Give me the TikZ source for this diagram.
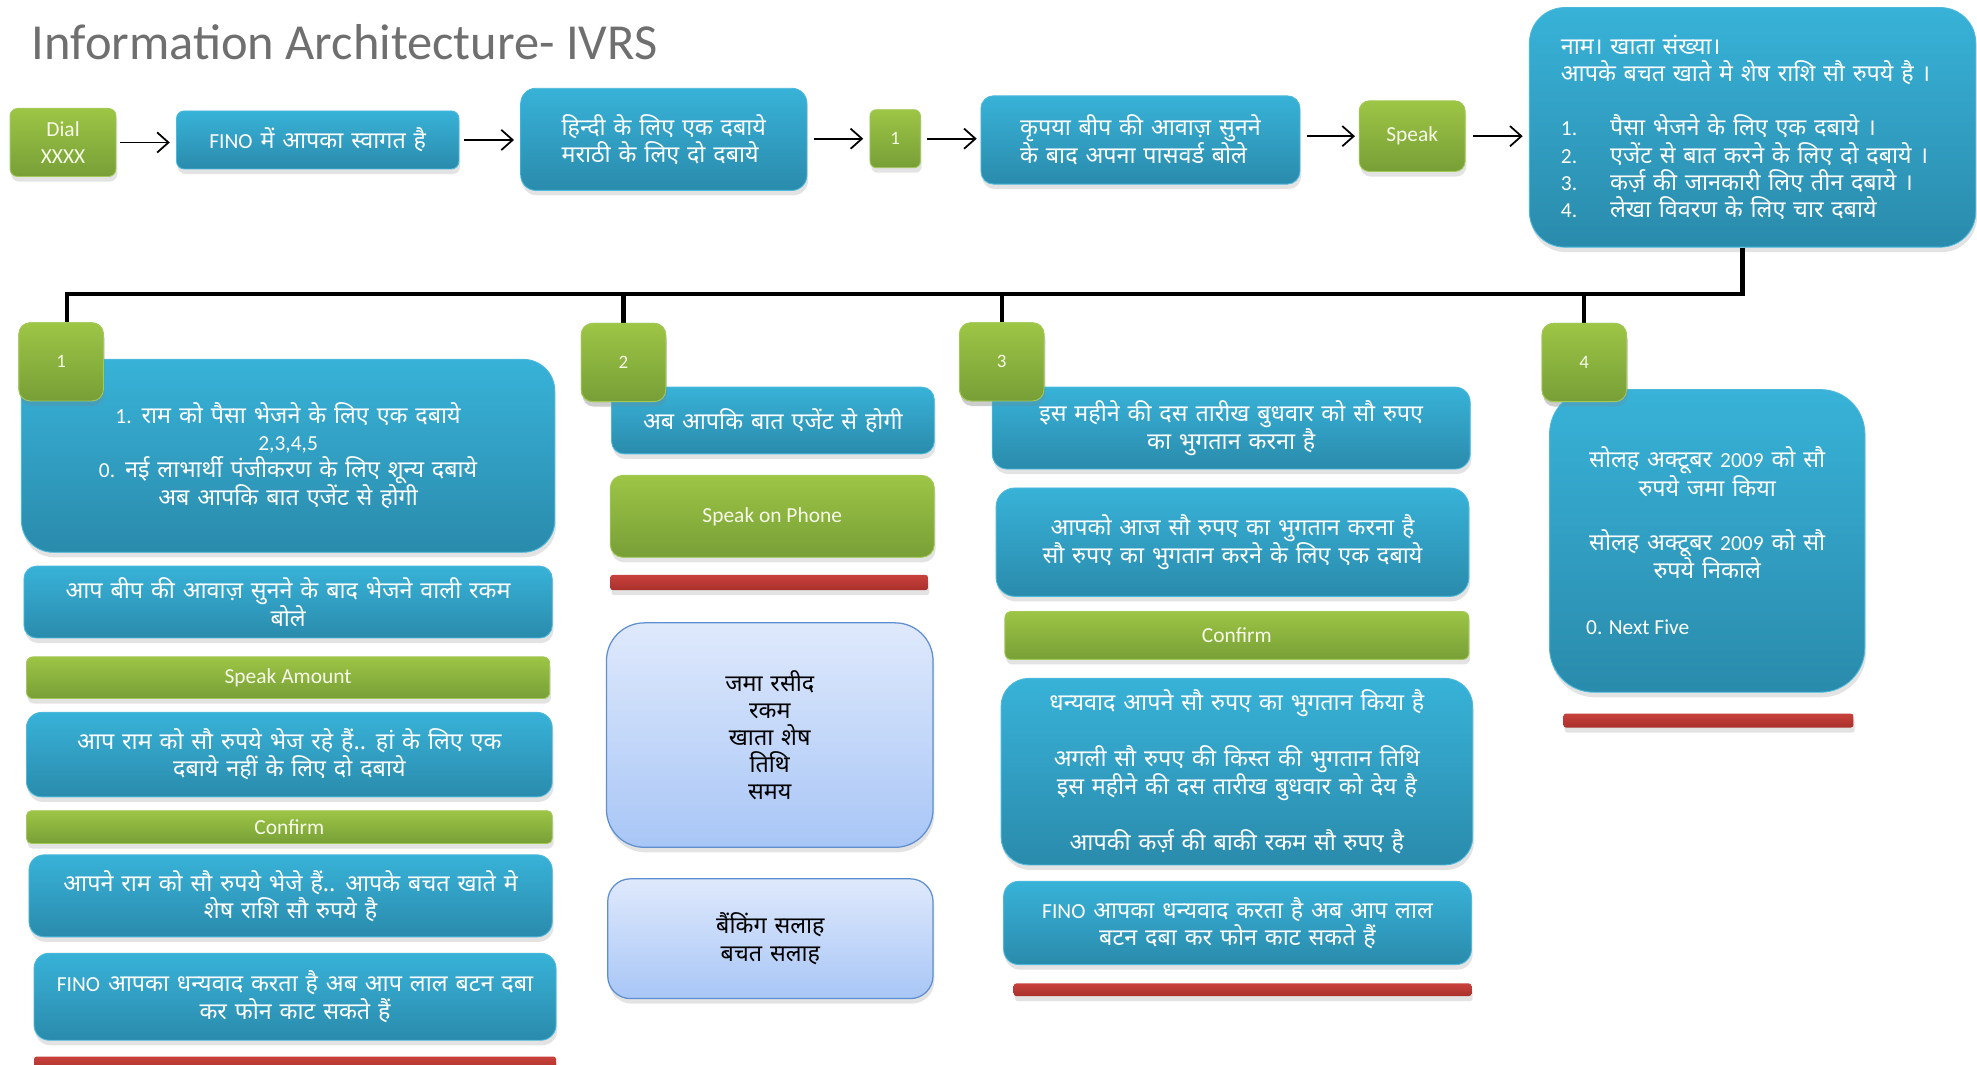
\documentclass[tikz,border=0pt]{standalone}
\usepackage{fontspec}
\setmainfont{Carlito}
\newfontfamily\dev[Script=Devanagari, WordSpace=1.3]{Noto Sans}
\usetikzlibrary{shadows,arrows.meta}
\definecolor{blueT}{HTML}{38B2D8}
\definecolor{blueB}{HTML}{2A8BAC}
\definecolor{blueE}{HTML}{4BB9DC}
\definecolor{greenT}{HTML}{9DC545}
\definecolor{greenB}{HTML}{779F37}
\definecolor{greenE}{HTML}{A2C856}
\definecolor{redT}{HTML}{C8413C}
\definecolor{redB}{HTML}{A9302C}
\definecolor{lbT}{HTML}{DFE9FC}
\definecolor{lbB}{HTML}{A8C6F6}
\definecolor{lbE}{HTML}{5F8FCF}
\definecolor{titlegray}{HTML}{6F6F6F}
\definecolor{cream}{HTML}{F7F9E8}
\newcommand\devtext{\dev\fontsize{18.5}{21.5}\selectfont}
\newcommand\Lat[1]{{\rmfamily\fontsize{17}{21.5}\selectfont #1}}
\tikzset{
  shad/.style={drop shadow={opacity=0.22, shadow xshift=1pt, shadow yshift=-4pt}},
  wh/.style 2 args={minimum width=#1pt, minimum height=#2pt},
  bluebox/.style={shad, rounded corners=#1, top color=blueT, bottom color=blueB,
    draw=blueE, line width=0.7pt, text=white, align=center, inner sep=0pt, font=\devtext},
  greenbox/.style={shad, rounded corners=#1, top color=greenT, bottom color=greenB,
    draw=greenE, line width=0.7pt, text=cream, align=center, inner sep=0pt,
    font=\fontsize{17}{21}\selectfont},
  numbox/.style={greenbox=9pt, wh={67}{62}, font=\fontsize{15}{18}\selectfont},
  redbar/.style={shad, rounded corners=2pt, top color=redT, bottom color=redB, draw=none, inner sep=0pt},
  lightbox/.style={shad, rounded corners=#1, top color=lbT, bottom color=lbB,
    draw=lbE, line width=1pt, text=black, align=center, inner sep=0pt, font=\devtext},
  arr/.style={-{Straight Barb[length=9pt,width=16pt]}, line width=1.4pt, black},
  bus/.style={line width=3.5pt, black},
  titlestyle/.style={anchor=base west, inner sep=0pt, text=titlegray, font=\fontsize{40}{44}\selectfont}
}
\begin{document}
\begin{tikzpicture}[x=1pt,y=-1pt]
\useasboundingbox (0,0) rectangle (1568,844);
\fill[white] (0,0) rectangle (1568,844);

\node[titlestyle] (title) at (25,47) {Information Architecture- IVRS};

% ---------- top row ----------
\node[greenbox=6pt, wh={84}{54}] (dial) at (50,113) {Dial\\XXXX};
\node[bluebox=6pt, wh={224}{46}] (fino) at (252,111) {\Lat{FINO} में आपका स्वागत है};
\node[bluebox=12pt, wh={227}{81}, align=left] (hindi) at (526.5,110.5) {हिन्दी के लिए एक दबाये\\मराठी के लिए दो दबाये};
\node[greenbox=5pt, wh={40}{46}, font=\fontsize{15}{18}\selectfont] (one) at (710,110) {1};
\node[bluebox=10pt, wh={253}{70}, align=left] (pass) at (904.5,111) {कृपया बीप की आवाज़ सुनने\\के बाद अपना पासवर्ड बोले};
\node[greenbox=8pt, wh={84}{56}] (speak) at (1120,108) {Speak};
\node[bluebox=28pt, wh={354}{190}, align=left, text width=304pt] (big) at (1390,101)
 {नाम। खाता संख्या।\\
  आपके बचत खाते मे शेष राशि सौ रुपये है ।\\[21.5pt]
  \makebox[39pt][l]{\Lat{1.}}पैसा भेजने के लिए एक दबाये ।\\
  \makebox[39pt][l]{\Lat{2.}}एजेंट से बात करने के लिए दो दबाये ।\\
  \makebox[39pt][l]{\Lat{3.}}कर्ज़ की जानकारी लिए तीन दबाये ।\\
  \makebox[39pt][l]{\Lat{4.}}लेखा विवरण के लिए चार दबाये};

\draw[arr, shorten <=3pt, shorten >=5pt] (dial.east) -- (dial.east -| fino.west);
\draw[arr, shorten <=4pt, shorten >=5pt] (fino.east) -- (fino.east -| hindi.west);
\draw[arr, shorten <=5pt, shorten >=5pt] (one.west -| hindi.east) -- (one.west);
\draw[arr, shorten <=5pt, shorten >=3pt] (one.east) -- (one.east -| pass.west);
\draw[arr, shorten <=5pt, shorten >=3pt] (speak.west -| pass.east) -- (speak.west);
\draw[arr, shorten <=6pt, shorten >=5pt] (speak.east) -- (speak.east -| big.west);

% ---------- number boxes and bus ----------
\coordinate (busR) at (1382,233);
\node[numbox] (n1) at (48.5,287) {1};
\node[numbox] (n2) at (494.5,287.5) {2};
\node[numbox] (n3) at (794.5,287) {3};
\node[numbox] (n4) at (1256.5,287.5) {4};
\draw[bus] (big.south -| busR) -- (busR) -| ([xshift=4.5pt]n1.north);
\draw[bus] (busR -| n2.north) -- (n2.north);
\draw[bus] (busR -| n3.north) -- (n3.north);
\draw[bus] (busR -| n4.north) -- (n4.north);

% column 1
\node[bluebox=25pt, wh={423}{153}] (c1a) at (228.5,361.5)
 {\Lat{1.} राम को पैसा भेजने के लिए एक दबाये\\\Lat{2,3,4,5}\\\Lat{0.} नई लाभार्थी पंजीकरण के लिए शून्य दबाये\\अब आपकि बात एजेंट से होगी};
\node[bluebox=10pt, wh={419}{57}] (c1b) at (228.5,477.5) {आप बीप की आवाज़ सुनने के बाद भेजने वाली रकम\\बोले};
\node[greenbox=5pt, wh={415}{33}] (c1c) at (228.5,537.5) {Speak Amount};
\node[bluebox=12pt, wh={417}{67}] (c1d) at (229.5,598.5) {आप राम को सौ रुपये भेज रहे हैं.. हां के लिए एक\\दबाये नहीं के लिए दो दबाये};
\node[greenbox=4pt, wh={417}{26}] (c1e) at (229.5,656) {Confirm};
\node[bluebox=12pt, wh={415}{65}] (c1f) at (230.5,710.5) {आपने राम को सौ रुपये भेजे हैं.. आपके बचत खाते मे\\शेष राशि सौ रुपये है};
\node[bluebox=12pt, wh={414}{69}] (c1g) at (234,790.5) {\Lat{FINO} आपका धन्यवाद करता है अब आप लाल बटन दबा\\कर फोन काट सकते हैं};
\node[redbar, wh={414}{12}] (c1r) at (234,844) {};

% column 2
\node[bluebox=10pt, wh={256}{53}] (c2a) at (613,333.5) {अब आपकि बात एजेंट से होगी};
\node[greenbox=10pt, wh={257}{65}] (c2b) at (612.5,409.5) {Speak on Phone};
\node[redbar, wh={252}{12}] (c2r) at (610,462) {};
\node[lightbox=30pt, wh={259}{178}] (c2c) at (610.5,583) {जमा रसीद\\रकम\\खाता शेष\\तिथि\\समय};
\node[lightbox=18pt, wh={258}{95}] (c2d) at (611,744.5) {बैंकिंग सलाह\\बचत सलाह};

% column 3
\node[bluebox=12pt, wh={379}{65}] (c3a) at (976.5,339.5) {इस महीने की दस तारीख बुधवार को सौ रुपए\\का भुगतान करना है};
\node[bluebox=15pt, wh={375}{86}] (c3b) at (977.5,430) {आपको आज सौ रुपए का भुगतान करना है\\सौ रुपए का भुगतान करने के लिए एक दबाये};
\node[greenbox=5pt, wh={368}{38}] (c3c) at (981,504) {Confirm};
\node[bluebox=22pt, wh={374}{148}] (c3d) at (981,612)
 {धन्यवाद आपने सौ रुपए का भुगतान किया है\\[21.5pt]अगली सौ रुपए की किस्त की भुगतान तिथि\\इस महीने की दस तारीख बुधवार को देय है\\[21.5pt]आपकी कर्ज़ की बाकी रकम सौ रुपए है};
\node[bluebox=12pt, wh={371}{66}] (c3e) at (981.5,732) {\Lat{FINO} आपका धन्यवाद करता है अब आप लाल\\बटन दबा कर फोन काट सकते हैं};
\node[redbar, wh={363}{10}] (c3r) at (985.5,785) {};

% column 4
\node[bluebox=35pt, wh={250}{240}] (c4a) at (1354,429)
 {सोलह अक्टूबर \Lat{2009} को सौ\\रुपये जमा किया\\[21.5pt]सोलह अक्टूबर \Lat{2009} को सौ\\रुपये निकाले\hspace*{30pt}\\[23pt]\makebox[192pt][l]{\Lat{0. Next Five}}};
\node[redbar, wh={230}{11}] (c4r) at (1355,571.5) {};

% number boxes on top of the blue boxes
\node[numbox] at (n1) {1};
\node[numbox] at (n2) {2};
\node[numbox] at (n3) {3};
\node[numbox] at (n4) {4};
\end{tikzpicture}
\end{document}
